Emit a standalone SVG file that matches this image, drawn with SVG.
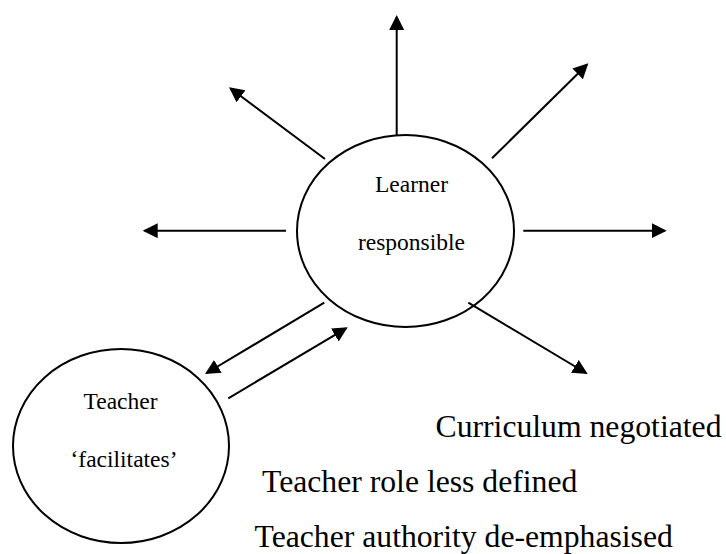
<svg xmlns="http://www.w3.org/2000/svg" width="726" height="554" viewBox="0 0 726 554">
<style>
.node{fill:#fff;stroke:#000;stroke-width:2}
.lbl{font-family:"Liberation Serif","Times New Roman",serif;font-size:23.5px;fill:#000;text-anchor:middle}
.big{font-family:"Liberation Serif","Times New Roman",serif;font-size:31.7px;fill:#000}
.conn line{stroke:#000;stroke-width:2;fill:none;marker-end:url(#ah)}
</style>
<defs>
<marker id="ah" markerUnits="userSpaceOnUse" markerWidth="16" markerHeight="16" refX="13" refY="7.5" orient="auto">
<path d="M0,0 L15,7.5 L0,15 Z" fill="#000"/>
</marker>
</defs>
<rect width="726" height="554" fill="#fff"/>
<g id="learner">
<ellipse class="node" cx="405.5" cy="231" rx="108.5" ry="96"/>
<text class="lbl" x="411.5" y="192">Learner</text>
<text class="lbl" x="411.5" y="250">responsible</text>
</g>
<g id="teacher">
<ellipse class="node" cx="121" cy="446" rx="108" ry="97"/>
<text class="lbl" x="120.5" y="409">Teacher</text>
<text class="lbl" x="124" y="467">‘facilitates’</text>
</g>
<g id="connectors" class="conn">
<line x1="396.7" y1="135" x2="396.7" y2="17"/>
<line x1="325" y1="159" x2="230.6" y2="88.5"/>
<line x1="492" y1="158.3" x2="586.9" y2="64.7"/>
<line x1="286" y1="230.7" x2="144.7" y2="230.7"/>
<line x1="523.3" y1="230.7" x2="664.7" y2="230.7"/>
<line x1="468.3" y1="302.7" x2="586" y2="373"/>
<line x1="324.3" y1="302.7" x2="206.7" y2="373"/>
<line x1="228.3" y1="398.3" x2="346" y2="328.3"/>
</g>
<g id="notes">
<text class="big" x="435.5" y="437">Curriculum negotiated</text>
<text class="big" x="262" y="491.7">Teacher role less defined</text>
<text class="big" x="254.5" y="546.5">Teacher authority de-emphasised</text>
</g>
</svg>
